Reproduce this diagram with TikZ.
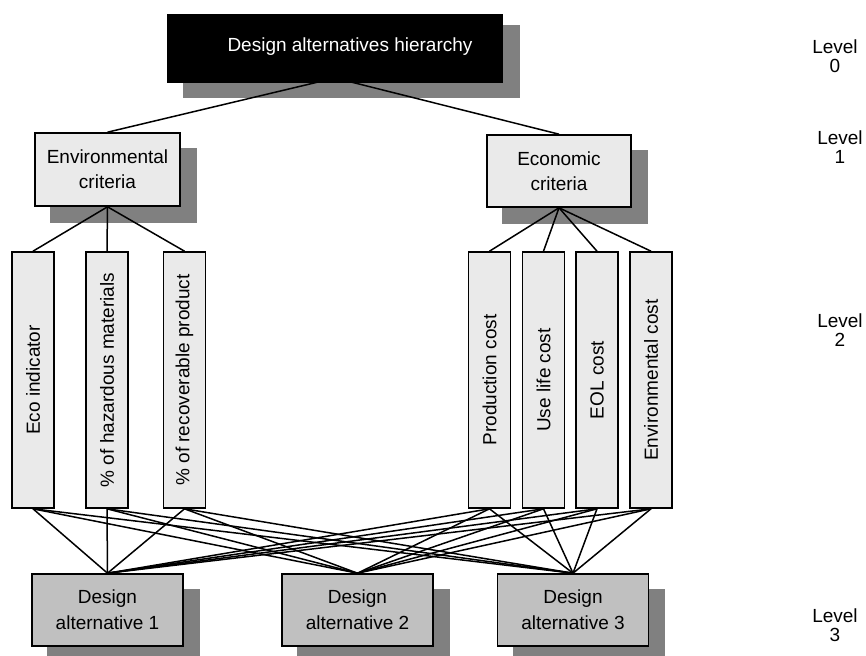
\documentclass[tikz,border=0pt]{standalone}
\usepackage{fontspec}
\setmainfont{Liberation Sans}
\pgfdeclarelayer{shadows}
\pgfdeclarelayer{edges}
\pgfsetlayers{shadows,edges,main}
\definecolor{shadowgrey}{HTML}{808080}
\definecolor{critfill}{HTML}{EAEAEA}
\definecolor{altfill}{HTML}{C0C0C0}

\begin{document}
\begin{tikzpicture}[x=1pt,y=-1pt,
  rootbox/.style={fill=black, minimum width=336pt, minimum height=69pt, inner sep=0pt},
  roottext/.style={text=white, inner sep=0pt, font=\fontsize{19}{23}\selectfont},
  critbox/.style={draw, line width=1.6pt, fill=critfill, minimum width=145pt,
    minimum height=73pt, align=center, inner sep=0pt, font=\fontsize{19}{25}\selectfont},
  measbox/.style={draw, line width=1.6pt, fill=critfill, minimum width=42pt,
    minimum height=256pt, inner sep=0pt},
  meastext/.style={rotate=90, inner sep=0pt, font=\fontsize{19}{23}\selectfont},
  altbox/.style={draw, line width=1.6pt, fill=altfill, minimum width=151pt,
    minimum height=72pt, align=center, inner sep=0pt, font=\fontsize{19}{26}\selectfont},
  levellabel/.style={align=center, inner sep=0pt, font=\fontsize{19}{18.5}\selectfont},
  link/.style={line width=1.5pt},
  boxshadow/.style={fill=shadowgrey}]

\useasboundingbox (0,0) rectangle (866,655);

% Level 0
\node[rootbox] (root) at (335,48.5) {};
\node[roottext, anchor=base] (roottitle) at (350,52) {Design alternatives hierarchy};
\coordinate (hub) at (335,78);

% Level 1
\node[critbox] (env) at (107.5,169.5) {Environmental\\criteria};
\node[critbox, minimum width=144pt, minimum height=72pt] (econ) at (559,171) {Economic\\criteria};

% Level 2
\foreach \n/\x/\t in {ecoind/33/Eco indicator,
                      haz/107/\% of hazardous materials,
                      rec/184.5/\% of recoverable product,
                      prod/489.5/Production cost,
                      use/543.5/Use life cost,
                      eol/597/EOL cost,
                      envc/651/Environmental cost}{
  \node[measbox] (\n) at (\x,380) {};
  \node[meastext] (\n-t) at (\n) {\t};
}

% Level 3
\node[altbox] (a1) at (107.5,610) {Design\\alternative 1};
\node[altbox] (a2) at (357.5,610) {Design\\alternative 2};
\node[altbox] (a3) at (573,610) {Design\\alternative 3};

% Level captions
\node[levellabel] (lvl0) at (835,56) {Level\\0};
\node[levellabel] (lvl1) at (840,147) {Level\\1};
\node[levellabel] (lvl2) at (840,330) {Level\\2};
\node[levellabel] (lvl3) at (835,625) {Level\\3};

% Drop shadows
\begin{pgfonlayer}{shadows}
  \fill[white] (0,0) rectangle (866,655);
  \fill[boxshadow] ([shift={(16,15)}]root.south west) rectangle ([shift={(17,11)}]root.north east);
  \foreach \b in {env,econ,a1,a2,a3}
    \fill[boxshadow] ([shift={(16,16)}]\b.south west) rectangle ([shift={(16,16)}]\b.north east);
\end{pgfonlayer}

% Connectors
\begin{pgfonlayer}{edges}
  \draw[link] (hub) -- (env.north);
  \draw[link] (hub) -- (econ.north);
  \foreach \m in {ecoind,haz,rec}
    \draw[link] (env.south) -- (\m.north);
  \foreach \m in {prod,use,eol,envc}
    \draw[link] (econ.south) -- (\m.north);
  \foreach \m in {ecoind,haz,rec,prod,use,eol,envc}
    \foreach \a in {a1,a2,a3}
      \draw[link] (\m.south) -- (\a.north);
\end{pgfonlayer}
\end{tikzpicture}
\end{document}
